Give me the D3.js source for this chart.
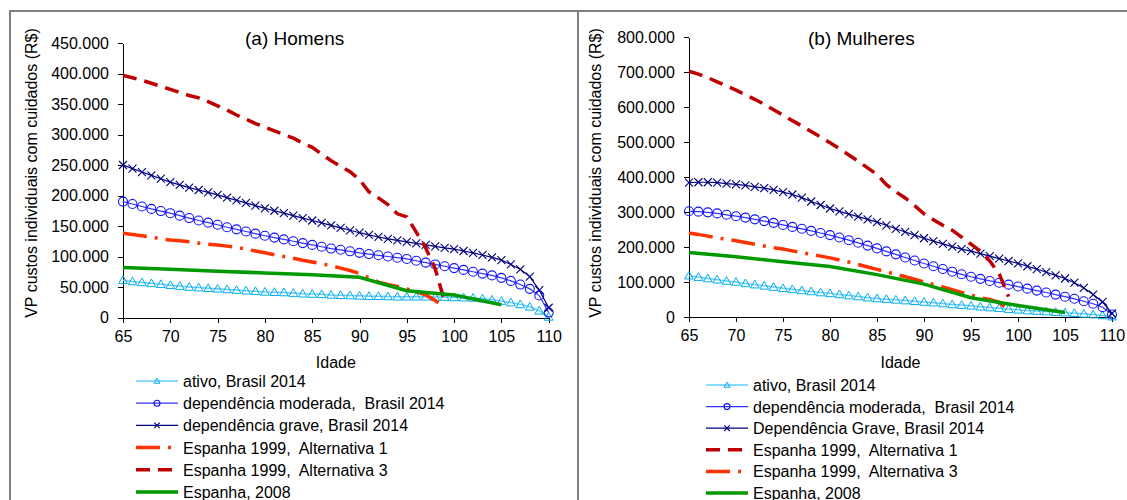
<!DOCTYPE html>
<html>
<head>
<meta charset="utf-8">
<script src="https://cdnjs.cloudflare.com/ajax/libs/d3/7.8.5/d3.min.js"></script>
<style>
	body { margin: 0; background: #ffffff; }
	svg text { font-family: "Liberation Sans", Arial, sans-serif; fill: #000; white-space: pre; }
</style>
</head>
<body>
<div id="vis"></div>
<script>

// Ages (x categories)
var idadesBrasil = [65,66,67,68,69,70,71,72,73,74,75,76,77,78,79,80,81,82,83,84,85,86,87,88,89,90,
	91,92,93,94,95,96,97,98,99,100,101,102,103,104,105,106,107,108,109,110];
var idadesEspanha1999 = [65,66,67,68,69,70,71,72,73,74,75,76,77,78,79,80,81,82,83,84,85,86,87,88,89,90,
	91,92,93,94,95,96,97,98,99];
var idadesEspanha2008 = [65,70,75,80,85,90,95,100,105];

// x axis ticks
var xTicks = [65,70,75,80,85,90,95,100,105,110];

// values in thousands of R$
// (a) Homens
var ativoHomens = [61,59,57.5,56,54.5,53,51.5,50,49,48,47,46,45,44,43,42,41.5,41,40,39,38.5,38,37,36.5,36,
	35.5,35,35,34.5,34,34,34,34,33.5,33.5,33,32.5,32,31,29,27,24.5,21.5,17.5,11,1];
var moderadaHomens = [190,186,182,178,174.5,171,167,163,159,155.5,152,148,144.5,141,137.5,134,131,128,125,122,
	119,116,113,111,108.5,106,104,102,100,98,96,93,90,87,84,81,78,75,72,69,65,60,54,47,36,8];
var graveHomens = [250,244,238.5,233,227.5,222,217.5,213,209,205,201,196.5,192,188,183.5,179,175,171,167,163,
	159,155,151,147,143,139,135.5,132,129,126.5,124,121.5,119,116.5,114,112,109,106,102.5,98.5,94,87,79,67,45,16];
var alt1Homens = [138,136,134,132,129,127,126,124,122,120,119,117,115,112,109,106,103,100,97,94,
	91,88,85,81,77,72,65,58,54,51,47,42,37,28,16];
var alt3Homens = [397,393,389,384,379,374,369,364,360,354,347,340,332,325,318,312,306,300,294,286,
	279,268,257,248,239,226,206,196,185,170,165,140,114,80,26];
var espanha2008Homens = [82,79,76,73,70,66,44,37,21];

// (b) Mulheres
var ativoMulheres = [118,114,110,106.5,103,100,96,92.5,89,85.5,82,79,76,73,70,67.5,64.5,61.5,58.5,55.5,
	53,51,49,47,45,43,41,38.5,36,34,32,29.5,27,25,22.5,20.5,18.5,17,15.5,14,12.5,11,9,7,4.5,1];
var moderadaMulheres = [302,301,299,296,292,288,284,279,274,269,263,257.5,252,246,240,234,227,219.5,212,204,
	196,187.5,179,170,161.5,153,145,137,129.5,122,115,109,103,98,92.5,87,81,75.5,70,64,58,52,45,38,28,7];
var graveMulheres = [384,385,385,384,381,379,376,372,368,363,357,350,341,330,320,310,302,294,287,279,
	271,262,252,243,234,225,217,209,201,194,188,181,174,167,160,153,145,137,128,119,110,98,83,64,43,10];
var alt1Mulheres = [702,694,684,672,660,648,635,622,608,592,577,561,546,530,514,498,481,463,445,426,
	407,378,358,340,318,295,278,262,248,228,208,188,160,123,58];
var alt3Mulheres = [240,236,231,226,222,218,213,208,203,198,194,189,184,179,174,169,163,157,150,143,
	136,129,122,115,108,100,93,86,78,70,62,55,50,42,20];
var espanha2008Mulheres = [184,172,158,144,121,94,55,33,13];


// Styles per series type
var styles = {
	ativo:    { line: "#66CCFF", marker: "#00AEEF", width: 1.5, dash: null, symbol: "triangle" },
	moderada: { line: "#3333FF", marker: "#1010FF", width: 1.2, dash: null, symbol: "circle" },
	grave:    { line: "#000080", marker: "#000080", width: 1.2, dash: null, symbol: "x" },
	dashDot:  { line: "#FF3300", width: 3.5, dash: "24,8,3,8", symbol: null },
	dashed:   { line: "#C00000", width: 3.5, dash: "14,8", symbol: null },
	verde:    { line: "#009900", width: 3.5, dash: null, symbol: null }
};

var width = 1127;
var height = 500;

var svg = d3.select("#vis")
	.append("svg")
	.attr("width", width)
	.attr("height", height);

// frame lines
svg.append("line").attr("x1", 9).attr("x2", width).attr("y1", 11).attr("y2", 11)
	.attr("stroke", "#808080").attr("stroke-width", 2);
svg.append("line").attr("x1", 10).attr("x2", 10).attr("y1", 10).attr("y2", height)
	.attr("stroke", "#808080").attr("stroke-width", 2);
svg.append("line").attr("x1", 578).attr("x2", 578).attr("y1", 10).attr("y2", height)
	.attr("stroke", "#808080").attr("stroke-width", 2);

var ptFormat = d3.formatLocale({ decimal: ",", thousands: ".", grouping: [3], currency: ["R$", ""] }).format(",d");


//////////////////////////////////////////////////////////////////////
///////////////////////////////  MARKERS /////////////////////////////
//////////////////////////////////////////////////////////////////////

function drawMarker(g, symbol, x, y, color, s) {
	if (symbol == "triangle") {
		g.append("path")
			.attr("d", "M" + x + "," + (y - s) + "L" + (x + s) + "," + (y + s * 0.75) + "L" + (x - s) + "," + (y + s * 0.75) + "Z")
			.attr("fill", "none").attr("stroke", color).attr("stroke-width", 1);
	} else if (symbol == "circle") {
		g.append("circle")
			.attr("cx", x).attr("cy", y).attr("r", s)
			.attr("fill", "none").attr("stroke", color).attr("stroke-width", 1.1);
	} else if (symbol == "x") {
		g.append("path")
			.attr("d", "M" + (x - s) + "," + (y - s) + "L" + (x + s) + "," + (y + s) + "M" + (x - s) + "," + (y + s) + "L" + (x + s) + "," + (y - s))
			.attr("fill", "none").attr("stroke", color).attr("stroke-width", 1.1);
	}
}

var markerSize = { triangle: 4.4, circle: 4.5, x: 4 };
var legendMarkerSize = { triangle: 3, circle: 3, x: 2.8 };


//////////////////////////////////////////////////////////////////////
///////////////////////////////  PANEL ///////////////////////////////
//////////////////////////////////////////////////////////////////////

function drawPanel(p) {
	var g = svg.append("g");

	var x = d3.scaleLinear().domain([65, 110]).range([p.left, p.right]);
	var y = d3.scaleLinear().domain([0, p.yMax]).range([p.bottom, p.top]);

	var yAxis = d3.axisLeft(y)
		.tickValues(d3.range(0, p.yMax + 1, p.yStep))
		.tickSize(5).tickSizeOuter(0).tickPadding(9)
		.tickFormat(function(d){ return ptFormat(d * 1000); });

	var xAxis = d3.axisBottom(x)
		.tickValues(xTicks)
		.tickSize(5).tickSizeOuter(0).tickPadding(8);

	var gy = g.append("g").attr("transform", "translate(" + p.left + ",0)").call(yAxis);
	var gx = g.append("g").attr("transform", "translate(0," + p.bottom + ")").call(xAxis);

	[gx, gy].forEach(function(a){
		a.selectAll("path, line").attr("stroke", "#000").attr("shape-rendering", "crispEdges");
		a.selectAll("text").attr("font-size", "16px").attr("font-family", "Liberation Sans, Arial, sans-serif");
	});

	// titles
	g.append("text").attr("x", p.titleX).attr("y", 45).attr("font-size", "19px").text(p.title);
	g.append("text").attr("x", (p.left + p.right) / 2).attr("y", 368).attr("text-anchor", "middle")
		.attr("font-size", "16px").text("Idade");
	g.append("text")
		.attr("transform", "translate(" + p.yLabelX + ",173) rotate(-90)")
		.attr("text-anchor", "middle").attr("font-size", "16px")
		.text("VP custos individuais com cuidados (R$)");

	var line = d3.line()
		.x(function(d){ return x(d[0]); })
		.y(function(d){ return y(d[1]); });

	p.series.forEach(function(s){
		var st = styles[s.style];
		var pts = s.ages.map(function(a, i){ return [a, s.values[i]]; });
		g.append("path")
			.datum(pts)
			.attr("d", line)
			.attr("fill", "none")
			.attr("stroke", st.line)
			.attr("stroke-width", st.width)
			.attr("stroke-dasharray", st.dash);
		if (st.symbol) {
			pts.forEach(function(d){
				drawMarker(g, st.symbol, x(d[0]), y(d[1]), st.marker, markerSize[st.symbol]);
			});
		}
	});

	// legend
	p.series.forEach(function(s, i){
		var st = styles[s.style];
		var ly = p.legendY + i * p.legendStep;
		g.append("line")
			.attr("x1", p.legendX).attr("x2", p.legendX + 42)
			.attr("y1", ly).attr("y2", ly)
			.attr("stroke", st.line)
			.attr("stroke-width", st.width)
			.attr("stroke-dasharray", st.dash);
		if (st.symbol) drawMarker(g, st.symbol, p.legendX + 21, ly, st.marker, legendMarkerSize[st.symbol]);
		g.append("text")
			.attr("x", p.legendX + 47).attr("y", ly + 6)
			.attr("font-size", "16px")
			.text(s.name);
	});
}

drawPanel({
	title: "(a) Homens", titleX: 245,
	left: 123, right: 548.7, top: 43, bottom: 317.5,
	yMax: 450, yStep: 50, yLabelX: 37,
	legendX: 136, legendY: 381, legendStep: 22.2,
	series: [
		{ name: "ativo, Brasil 2014", style: "ativo", ages: idadesBrasil, values: ativoHomens },
		{ name: "dependência moderada,  Brasil 2014", style: "moderada", ages: idadesBrasil, values: moderadaHomens },
		{ name: "dependência grave, Brasil 2014", style: "grave", ages: idadesBrasil, values: graveHomens },
		{ name: "Espanha 1999,  Alternativa 1", style: "dashDot", ages: idadesEspanha1999, values: alt1Homens },
		{ name: "Espanha 1999,  Alternativa 3", style: "dashed", ages: idadesEspanha1999, values: alt3Homens },
		{ name: "Espanha, 2008", style: "verde", ages: idadesEspanha2008, values: espanha2008Homens }
	]
});

drawPanel({
	title: "(b) Mulheres", titleX: 808,
	left: 689, right: 1112, top: 37, bottom: 317,
	yMax: 800, yStep: 100, yLabelX: 601,
	legendX: 706, legendY: 385, legendStep: 21.6,
	series: [
		{ name: "ativo, Brasil 2014", style: "ativo", ages: idadesBrasil, values: ativoMulheres },
		{ name: "dependência moderada,  Brasil 2014", style: "moderada", ages: idadesBrasil, values: moderadaMulheres },
		{ name: "Dependência Grave, Brasil 2014", style: "grave", ages: idadesBrasil, values: graveMulheres },
		{ name: "Espanha 1999,  Alternativa 1", style: "dashed", ages: idadesEspanha1999, values: alt1Mulheres },
		{ name: "Espanha 1999,  Alternativa 3", style: "dashDot", ages: idadesEspanha1999, values: alt3Mulheres },
		{ name: "Espanha, 2008", style: "verde", ages: idadesEspanha2008, values: espanha2008Mulheres }
	]
});

</script>
</body>
</html>
